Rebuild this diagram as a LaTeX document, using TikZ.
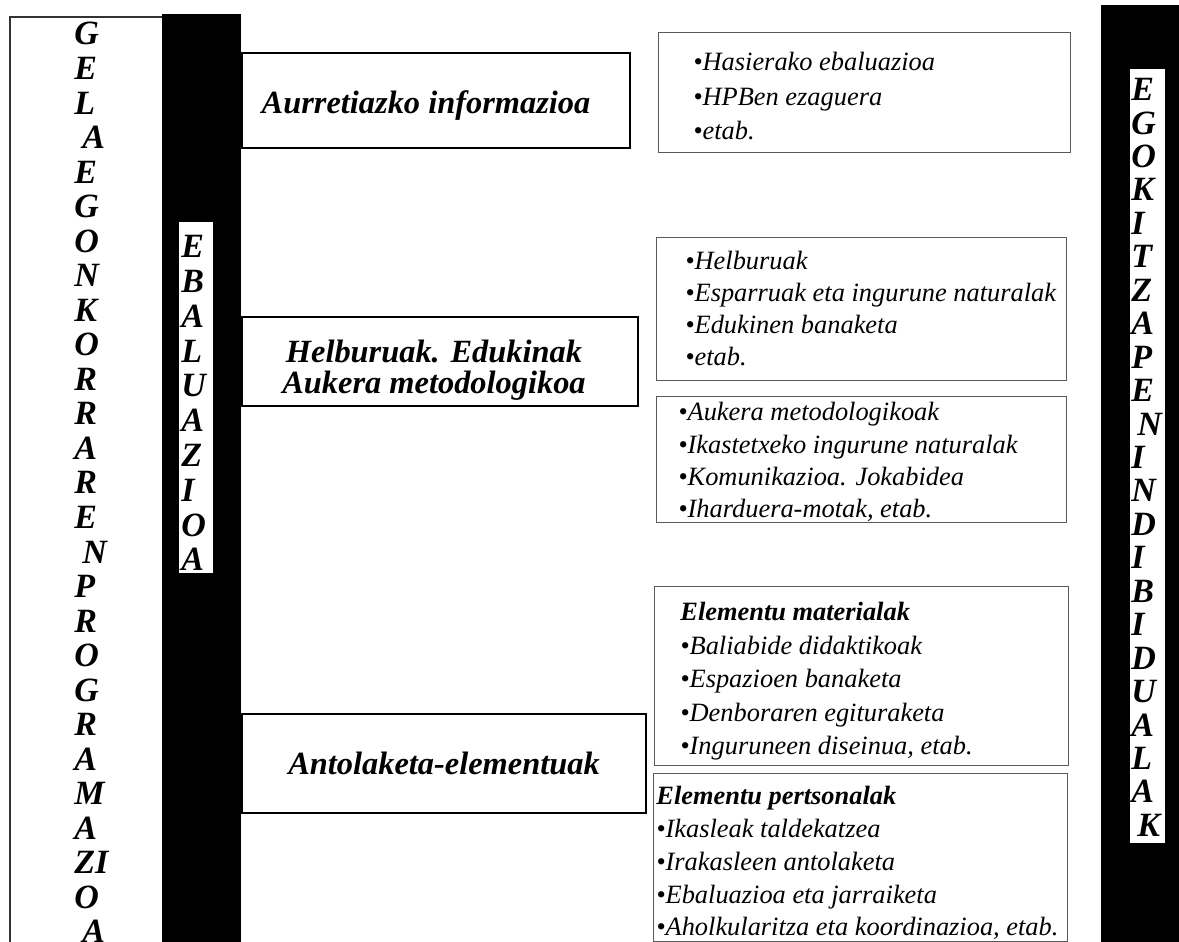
\documentclass[tikz,border=0pt]{standalone}
\usepackage{fontspec}
\setmainfont{Liberation Serif}

\tikzset{
  bigbox/.style={draw, line width=1pt, inner sep=0pt, anchor=north west},
  boxlabel/.style={inner sep=0pt, align=center,
    font=\fontsize{16.2}{15.5}\selectfont\bfseries\itshape},
  listbox/.style={draw=black!65, line width=0.6pt, inner sep=0pt, anchor=north west},
  listtext/.style={inner sep=0pt, anchor=north west, align=left,
    font=\fontsize{13.2}{#1}\selectfont\itshape},
  letters/.style={inner sep=0pt, anchor=north west, align=left,
    font=\fontsize{17}{#1}\selectfont\bfseries\itshape},
}

\begin{document}
\begin{tikzpicture}[x=0.5pt,y=-0.5pt]

\useasboundingbox
(0,0)
rectangle
(1179,942);

% left frame and black bars
\draw[line width=1pt, black!80]
(10,942)
|-
(162,17);

\fill
(162,14)
rectangle
(241,942);

\fill
(1101,5)
rectangle
(1179,942);

\fill[white]
(179,222)
rectangle
(213,573);

\fill[white]
(1130,69)
rectangle
(1165,843);

% vertical words
\node[letters=17.27pt]
(gela)
at (74,22)
{G\\E\\L\\\hspace*{4pt}A\\E\\G\\O\\N\\K\\O\\R\\R\\A\\R\\E\\\hspace*{4pt}N\\P\\R\\O\\G\\R\\A\\M\\A\\ZI\\O\\\hspace*{4pt}A};

\node[letters=17.4pt]
(ebal)
at (181,235)
{E\\B\\A\\L\\U\\A\\Z\\I\\O\\A};

\node[letters=16.72pt]
(egok)
at (1131,78)
{E\\G\\O\\K\\I\\T\\Z\\A\\P\\E\\\hspace*{3pt}N\\I\\N\\D\\I\\B\\I\\D\\U\\A\\L\\A\\\hspace*{3pt}K};

% main boxes
\node[bigbox, minimum width=194pt, minimum height=47.5pt]
(info)
at (241,52)
{};

\node[boxlabel]
(info-t)
at ([xshift=-5pt,yshift=-2.5pt]info.center)
{Aurretiazko informazioa};

\node[bigbox, minimum width=198pt, minimum height=44.5pt]
(goals)
at (241,316)
{};

\node[boxlabel]
(goals-t)
at ([xshift=-3pt,yshift=-4.5pt]goals.center)
{Helburuak. Edukinak\\Aukera metodologikoa};

\node[bigbox, minimum width=202pt, minimum height=49.5pt]
(orgs)
at (241,713)
{};

\node[boxlabel]
(orgs-t)
at (orgs.center)
{Antolaketa-elementuak};

% lists
\node[listbox, minimum width=206pt, minimum height=60pt]
(prior)
at (658,32)
{};

\node[listtext=17.25pt]
(prior-t)
at (693,52)
{\textbullet Hasierako ebaluazioa\\\textbullet HPBen ezaguera\\\textbullet etab.};

\node[listbox, minimum width=205pt, minimum height=71.5pt]
(aims)
at (656,237)
{};

\node[listtext=16pt]
(aims-t)
at (685,251)
{\textbullet Helburuak\\\textbullet Esparruak eta ingurune naturalak\\\textbullet Edukinen banaketa\\\textbullet etab.};

\node[listbox, minimum width=205pt, minimum height=63pt]
(methods)
at (656,396)
{};

\node[listtext=16.15pt]
(methods-t)
at (678,402)
{\textbullet Aukera metodologikoak\\\textbullet Ikastetxeko ingurune naturalak\\\textbullet Komunikazioa. Jokabidea\\\textbullet Iharduera-motak, etab.};

\node[listbox, minimum width=207pt, minimum height=89.5pt]
(material)
at (654,586)
{};

\node[listtext=16.75pt]
(material-t)
at (680,602)
{\textbf{Elementu materialak}\\\textbullet Baliabide didaktikoak\\\textbullet Espazioen banaketa\\\textbullet Denboraren egituraketa\\\textbullet Inguruneen diseinua, etab.};

\node[listbox, minimum width=207pt, minimum height=84pt]
(staff)
at (653,773)
{};

\node[listtext=16.4pt]
(staff-t)
at (656,786)
{\textbf{Elementu pertsonalak}\\\textbullet Ikasleak taldekatzea\\\textbullet Irakasleen antolaketa\\\textbullet Ebaluazioa eta jarraiketa\\\textbullet Aholkularitza eta koordinazioa, etab.};

\end{tikzpicture}
\end{document}
